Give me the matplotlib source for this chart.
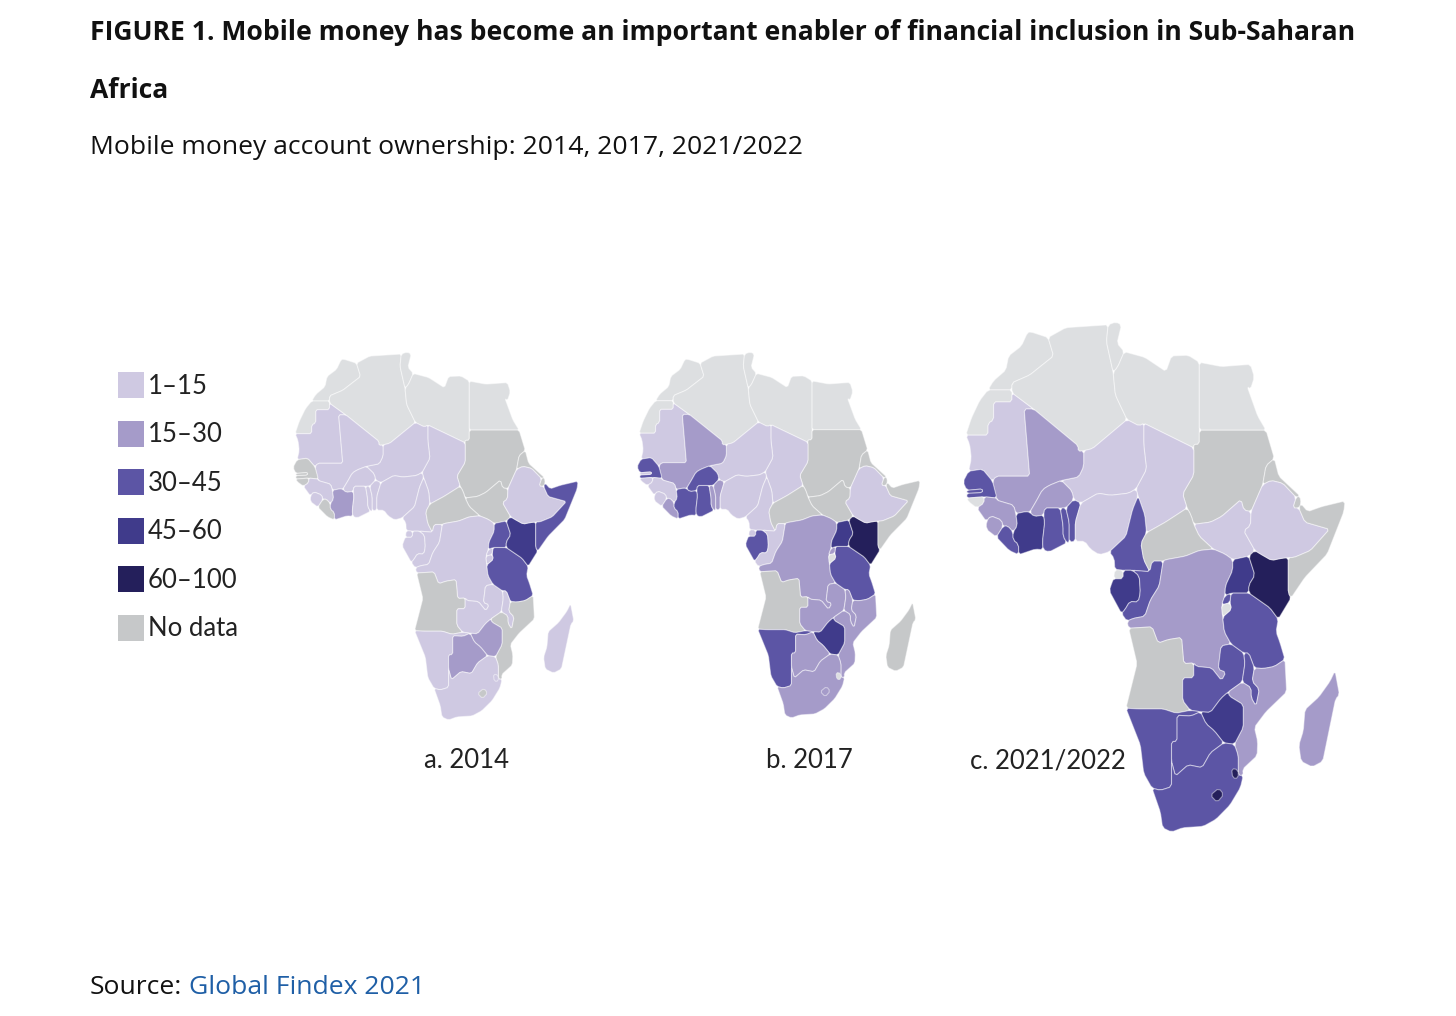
#!/usr/bin/env python3
import math
import matplotlib
matplotlib.use("Agg")
import matplotlib.pyplot as plt
from matplotlib.patches import Polygon, Rectangle

# country outlines, lon/lat, rough by hand
outlines = {
    "MOR": [(-5.9,35.8),(-5.3,35.9),(-2.2,35.1),(-1.2,32.5),(-3.6,31.0),(-5.5,29.8),(-8.7,28.7),(-8.7,27.7),(-13,27.7),(-12,29),(-9.8,30.5),(-9.3,32.5),(-7,33.9)],
    "ESH": [(-13,27.7),(-8.7,27.7),(-8.7,26),(-12,26),(-12,23.4),(-13,23),(-13,21.3),(-17,21.3),(-16,23.7),(-14.5,26.2)],
    "MRT": [(-17,21.3),(-13,21.3),(-13,23),(-12,23.4),(-12,26),(-8.7,26),(-8.7,27.3),(-4.8,25),(-6.5,25),(-5.5,15.5),(-9.3,15.5),(-11.5,15.5),(-12.2,14.8),(-14,16.5),(-16.5,16.2),(-16,18),(-16.3,20)],
    "DZA": [(-2.2,35.1),(1,36.5),(8.6,36.9),(8.3,34.5),(9.5,30.2),(9.9,27),(12,23.5),(5.8,19.4),(4.2,19.1),(3.2,19),(3.2,19.8),(-4.8,25),(-8.7,27.3),(-8.7,28.7),(-5.5,29.8),(-3.6,31),(-1.2,32.5)],
    "TUN": [(8.6,36.9),(10,37.3),(11,36.9),(10.2,34.3),(11.5,33.1),(10.3,30.9),(9.5,30.2),(8.3,34.5)],
    "LBY": [(11.5,33.1),(15.2,32.3),(19,30.3),(20,32.5),(23,32.6),(25,31.6),(25,22),(25,20),(24,20),(24,19.5),(15,23),(14.2,22.6),(12,23.5),(9.9,27),(9.5,30.2),(10.3,30.9)],
    "EGY": [(25,31.6),(29,31),(32.3,31.2),(34.2,31.3),(34.9,29.5),(34.2,27.8),(33.6,28.2),(35.5,24),(37,22),(25,22)],
    "SDN": [(25,22),(37,22),(38.5,18),(37,17),(36.4,14.3),(34.3,10.5),(33,10.7),(32.5,12.2),(29,9.8),(27,9),(24,8.7),(23.5,10),(22.8,11),(22,13),(24,15.7),(24,19.5),(24,20),(25,20)],
    "SSD": [(34.3,10.5),(34.2,8.5),(33,7.8),(35,5),(33.9,4.2),(31,3.7),(29.6,4.5),(27.5,5.2),(25,7),(24,8.7),(27,9),(29,9.8),(32.5,12.2),(33,10.7)],
    "TCD": [(15,23),(24,19.5),(24,15.7),(22,13),(22.8,11),(18.9,9),(15.5,7.5),(15.2,10),(14,12.7),(13.6,13.7),(15.5,16.5),(15,20)],
    "NER": [(12,23.5),(14.2,22.6),(15,23),(15,20),(15.5,16.5),(13.6,13.7),(12.3,13.1),(9,12.8),(6.8,13.1),(3.7,11.7),(2.4,12.2),(2.1,13.4),(0.2,14.9),(3.3,15.4),(4.2,16.9),(4.2,19.1),(5.8,19.4)],
    "MLI": [(-4.8,25),(3.2,19.8),(3.2,19),(4.2,19.1),(4.2,16.9),(3.3,15.4),(0.2,14.9),(-2,14.2),(-3.2,13.6),(-4.3,12),(-5.5,10.4),(-6.2,10.5),(-8,10.2),(-8.4,11.4),(-11.4,12.1),(-12.2,14.8),(-11.5,15.5),(-9.3,15.5),(-5.5,15.5),(-6.5,25)],
    "BFA": [(0.2,14.9),(2.1,13.4),(2.4,12.2),(1,11),(-2.8,11),(-3,10),(-4.7,9.8),(-5.5,10.4),(-4.3,12),(-3.2,13.6),(-2,14.2)],
    "SEN": [(-16.5,16.2),(-14,16.5),(-12.2,14.8),(-11.4,12.4),(-13.7,12.6),(-16.8,12.4),(-16.8,13.1),(-14,13.2),(-14,13.7),(-16.8,13.5),(-17.5,14.7)],
    "GMB": [(-16.8,13.5),(-14,13.7),(-14,13.2),(-16.8,13.1)],
    "GNB": [(-16.8,12.4),(-13.7,12.6),(-13.7,11.7),(-15,11),(-16.5,11.9)],
    "GIN": [(-13.7,12.6),(-11.4,12.4),(-11.4,12.1),(-8.4,11.4),(-8,10.2),(-7.7,8.5),(-8.5,7.6),(-9.5,8.5),(-10.3,8.4),(-10.6,9.3),(-12.5,9.9),(-13.3,9.1),(-15,11),(-13.7,11.7)],
    "SLE": [(-13.3,9.1),(-12.5,9.9),(-10.6,9.3),(-10.3,8.4),(-11.5,6.9),(-13.3,8)],
    "LBR": [(-11.5,6.9),(-10.3,8.4),(-9.5,8.5),(-8.5,7.6),(-8.5,6.5),(-7.5,5.9),(-7.5,4.4),(-9.2,5)],
    "CIV": [(-8,10.2),(-6.2,10.5),(-5.5,10.4),(-4.7,9.8),(-3,10),(-2.8,9),(-3.2,6.3),(-3.1,5.1),(-4.5,5.2),(-7.5,4.4),(-7.5,5.9),(-8.5,6.5),(-8.5,7.6),(-7.7,8.5)],
    "GHA": [(-2.8,11),(0,11),(0.5,8.5),(0.5,7),(1.2,6.1),(-2,4.8),(-3.1,5.1),(-3.2,6.3),(-2.8,9),(-3,10)],
    "TGO": [(0,11),(1,11),(1.6,9),(1.6,6.2),(1.2,6.1),(0.5,7),(0.5,8.5)],
    "BEN": [(1,11),(2.4,12.2),(3.7,11.7),(2.7,9),(2.7,6.3),(1.6,6.2),(1.6,9)],
    "NGA": [(2.7,6.3),(2.7,9),(3.7,11.7),(6.8,13.1),(9,12.8),(12.3,13.1),(13.6,13.7),(14,12.7),(13,10.8),(11.8,7),(8.8,4.8),(7,4.4),(5.4,5.2),(4.4,6.3)],
    "CMR": [(8.8,4.8),(11.8,7),(13,10.8),(14,12.7),(15.2,10),(15.5,7.5),(14.5,6),(15,3.7),(16.1,2),(13,2.2),(11.3,2.2),(9.8,2.3),(9.7,3.9)],
    "CAF": [(15.5,7.5),(18.9,9),(22.8,11),(23.5,10),(24,8.7),(25,7),(27.5,5.2),(25,5),(22.5,4.2),(19,3.7),(18.5,3.5),(16.5,3.5),(16.1,2),(15,3.7),(14.5,6)],
    "GNQ": [(9.8,2.3),(11.3,2.2),(11.3,1),(9.6,1)],
    "GAB": [(9.6,1),(11.3,1),(11.3,2.2),(13,2.2),(14.2,1.4),(14.4,-1),(14,-2.3),(12.5,-2.2),(11.6,-3.4),(11,-3.9),(8.8,-0.7),(9.3,0.5)],
    "COG": [(13,2.2),(16.1,2),(16.5,3.5),(18.5,3.5),(17.8,0),(16.2,-2),(15.2,-4.3),(13.1,-4.6),(12,-5),(11,-3.9),(11.6,-3.4),(12.5,-2.2),(14,-2.3),(14.4,-1),(14.2,1.4)],
    "COD": [(18.5,3.5),(19,3.7),(22.5,4.2),(25,5),(27.5,5.2),(29.6,4.5),(31,3.7),(31,2.2),(29.7,0),(29.6,-1.4),(29,-2.7),(29.2,-4.4),(29.5,-6.5),(30.7,-8.2),(28.9,-8.5),(28.4,-11.8),(29.8,-12.2),(29,-13.4),(27.2,-11.6),(24.5,-11.4),(24,-10.9),(22.2,-11),(21.8,-7.3),(19.4,-7.6),(17.6,-8.1),(16.5,-5.8),(12.3,-6),(12,-5),(13.1,-4.6),(15.2,-4.3),(16.2,-2),(17.8,0)],
    "AGO": [(12.3,-6),(16.5,-5.8),(17.6,-8.1),(19.4,-7.6),(21.8,-7.3),(22.2,-11),(24,-10.9),(24,-13),(22,-13),(22,-16.2),(23.4,-17.6),(20.8,-18),(18.5,-17.4),(14,-17.4),(11.8,-17.3),(13.8,-11),(13.2,-9)],
    "ZMB": [(22,-13),(24,-13),(24,-10.9),(24.5,-11.4),(27.2,-11.6),(29,-13.4),(29.8,-12.2),(28.4,-11.8),(28.9,-8.5),(30.7,-8.2),(33,-9.5),(33.2,-11),(32.7,-13.6),(30.2,-15),(28.9,-15.9),(27,-17.9),(25.2,-17.8),(23.4,-17.6),(22,-16.2)],
    "TZA": [(30.7,-1),(33.9,-1),(37.7,-3.1),(39.2,-4.7),(38.8,-6.5),(39.5,-8),(40.4,-10.4),(38.5,-11.4),(36.5,-11.7),(34.9,-11.6),(33.9,-9.5),(33,-9.5),(30.7,-8.2),(29.5,-6.5),(29.2,-4.4),(30.8,-3.3),(30.5,-2.4)],
    "RWA": [(29.6,-1.4),(30.7,-1),(30.5,-2.4),(29,-2.7)],
    "BDI": [(29,-2.7),(30.5,-2.4),(30.8,-3.3),(29.2,-4.4)],
    "UGA": [(31,3.7),(33.9,4.2),(35,1.5),(33.9,0.1),(33.9,-1),(30.7,-1),(29.6,-1.4),(29.7,0),(31,2.2)],
    "KEN": [(33.9,4.2),(35,5),(36,4.5),(38,3.6),(39.8,3.9),(41,4),(41,-1),(41.5,-1.7),(39.2,-4.7),(37.7,-3.1),(33.9,-1),(33.9,0.1),(35,1.5)],
    "ERI": [(36.4,14.3),(37,17),(38.5,18),(39.3,15.5),(43.1,12.7),(42.4,12.5),(40,14.5),(37.9,14.9)],
    "DJI": [(43.1,12.7),(43.3,11.6),(42.9,11),(41.8,11),(42.4,12.5)],
    "ETH": [(36.4,14.3),(37.9,14.9),(40,14.5),(42.4,12.5),(41.8,11),(42.9,11),(44,9),(48.4,8),(45,5),(42,4),(41,4),(39.8,3.9),(38,3.6),(36,4.5),(35,5),(33,7.8),(34.2,8.5),(34.3,10.5)],
    "SOM": [(43.3,11.6),(44.5,10.5),(47,11.2),(51.2,12),(51,10.5),(48,4.5),(44,1.2),(41.5,-1.7),(41,-1),(41,4),(42,4),(45,5),(48.4,8),(44,9),(42.9,11)],
    "MWI": [(33,-9.5),(33.9,-9.5),(34.9,-11.6),(34.5,-13.5),(35.8,-14.6),(35.2,-17),(34.3,-15.8),(34.3,-14.4),(32.7,-13.6),(33.2,-11)],
    "MOZ": [(34.9,-11.6),(36.5,-11.7),(38.5,-11.4),(40.4,-10.4),(40.7,-15),(37,-17.8),(34.9,-20),(35.5,-22),(35.4,-24),(32.8,-25.9),(32.9,-26.8),(32,-26.8),(32,-24),(31.3,-22.4),(32.9,-20),(32.9,-16.8),(30.4,-15.6),(30.2,-15),(32.7,-13.6),(34.3,-14.4),(34.3,-15.8),(35.2,-17),(35.8,-14.6),(34.5,-13.5)],
    "ZWE": [(25.2,-17.8),(27,-17.9),(28.9,-15.9),(30.2,-15),(30.4,-15.6),(32.9,-16.8),(32.9,-20),(31.3,-22.4),(29.4,-22.2),(27.7,-20.5),(26.2,-19.5)],
    "NAM": [(11.8,-17.3),(14,-17.4),(18.5,-17.4),(20.8,-18),(23.4,-17.6),(25.2,-17.8),(23.5,-18.4),(21,-18.3),(21,-22),(20,-22),(20,-24.8),(20,-28.4),(18,-28.9),(16.5,-28.6),(15,-26.5),(14.4,-22.5)],
    "BWA": [(21,-18.3),(23.5,-18.4),(25.2,-17.8),(26.2,-19.5),(27.7,-20.5),(29.4,-22.2),(27,-23.6),(25.5,-25.7),(23,-25.3),(20.7,-26.9),(20,-24.8),(20,-22),(21,-22)],
    "ZAF": [(16.5,-28.6),(18,-28.9),(20,-28.4),(20,-24.8),(20.7,-26.9),(23,-25.3),(25.5,-25.7),(27,-23.6),(29.4,-22.2),(31.3,-22.4),(32,-24),(32,-26.8),(32.9,-26.8),(32.4,-28.5),(30.5,-31),(28,-33),(25.7,-34),(22,-34.2),(20,-34.8),(18.4,-34.2),(18,-32)],
    "LSO": [(27,-29.6),(28.5,-28.6),(29.4,-29.5),(28.2,-30.6)],
    "SWZ": [(30.8,-25.8),(32,-26),(32,-27.2),(31,-27.2)],
    "MDG": [(49.4,-12),(50.2,-15.4),(49.5,-16),(47.2,-24.8),(45.3,-25.6),(43.3,-24.8),(42.9,-22.5),(43.7,-20.5),(44,-17.5),(46.5,-15.7),(48.5,-13.5)],
}

north = ["MOR", "ESH", "DZA", "TUN", "LBY", "EGY"]

bin_labels = ["1–15", "15–30", "30–45", "45–60", "60–100", "No data"]
bin_colors = ["#cfc9e2", "#a59bc9", "#5c55a5", "#403b8b", "#241f5b", "#c6c8c9"]
pale_color = "#dddfe1"
fill_colors = bin_colors + [pale_color]

# 0..4 are the classes, 5 is no data, 6 the paler grey
bins_2014 = {
    "MRT": 0, "MLI": 0, "NER": 0, "TCD": 0, "SEN": 5, "GMB": 5, "GNB": 5, "GIN": 0, "SLE": 0, "LBR": 5,
    "CIV": 1, "BFA": 0, "GHA": 0, "TGO": 0, "BEN": 0, "NGA": 0, "CMR": 0, "GNQ": 0, "GAB": 0, "COG": 0,
    "CAF": 5, "SDN": 5, "SSD": 5, "ETH": 0, "ERI": 5, "DJI": 5, "SOM": 2, "UGA": 2, "KEN": 3, "RWA": 0,
    "BDI": 0, "TZA": 2, "COD": 0, "AGO": 5, "ZMB": 0, "MWI": 0, "MOZ": 5, "ZWE": 1, "NAM": 0, "BWA": 1,
    "ZAF": 0, "LSO": 5, "SWZ": 0, "MDG": 0,
}
bins_2017 = {
    "MRT": 0, "MLI": 1, "NER": 0, "TCD": 0, "SEN": 2, "GMB": 0, "GNB": 0, "GIN": 0, "SLE": 0, "LBR": 1,
    "CIV": 2, "BFA": 2, "GHA": 2, "TGO": 1, "BEN": 1, "NGA": 0, "CMR": 0, "GNQ": 0, "GAB": 2, "COG": 0,
    "CAF": 5, "SDN": 5, "SSD": 5, "ETH": 0, "ERI": 5, "DJI": 5, "SOM": 5, "UGA": 3, "KEN": 4, "RWA": 1,
    "BDI": 6, "TZA": 2, "COD": 1, "AGO": 5, "ZMB": 1, "MWI": 1, "MOZ": 1, "ZWE": 3, "NAM": 2, "BWA": 1,
    "ZAF": 1, "LSO": 1, "SWZ": 6, "MDG": 5,
}
bins_2021 = {
    "MRT": 0, "MLI": 1, "NER": 0, "TCD": 0, "SEN": 2, "GMB": 2, "GNB": 6, "GIN": 1, "SLE": 1, "LBR": 2,
    "CIV": 3, "BFA": 1, "GHA": 2, "TGO": 2, "BEN": 2, "NGA": 0, "CMR": 2, "GNQ": 6, "GAB": 3, "COG": 2,
    "CAF": 5, "SDN": 5, "SSD": 0, "ETH": 0, "ERI": 5, "DJI": 5, "SOM": 5, "UGA": 3, "KEN": 4, "RWA": 2,
    "BDI": 6, "TZA": 2, "COD": 1, "AGO": 5, "ZMB": 2, "MWI": 2, "MOZ": 1, "ZWE": 3, "NAM": 2, "BWA": 2,
    "ZAF": 2, "LSO": 4, "SWZ": 4, "MDG": 1,
}

panel_names = ["a. 2014", "b. 2017", "c. 2021/2022"]
panel_bins = [bins_2014, bins_2017, bins_2021]
# pixel box of each map: left, right, top, bottom
panel_boxes = [(293, 578, 352, 720), (637, 920, 352, 718), (963, 1345, 322, 832)]
panel_label_x = [467, 809, 1048]

W, H = 1456, 1016
LON0, LON1, LAT0, LAT1 = -17.5, 51.2, -34.8, 37.3


def soften(pts, cut=0.35):
    # take a small fixed bite off each corner so the outlines look less angular
    out = []
    for i, p in enumerate(pts):
        q = pts[(i + 1) % len(pts)]
        dist = math.hypot(q[0] - p[0], q[1] - p[1])
        t = min(cut / dist, 0.3)
        out.append((p[0] + t * (q[0] - p[0]), p[1] + t * (q[1] - p[1])))
        out.append((q[0] - t * (q[0] - p[0]), q[1] - t * (q[1] - p[1])))
    return out


fig = plt.figure(figsize=(W / 100, H / 100), dpi=100)
bg = fig.add_axes([0, 0, 1, 1])
bg.set_xlim(0, W)
bg.set_ylim(H, 0)
bg.axis("off")

for box, bins in zip(panel_boxes, panel_bins):
    left, right, top, bottom = box
    ax = fig.add_axes([left / W, 1 - bottom / H, (right - left) / W, (bottom - top) / H])
    ax.set_xlim(LON0, LON1)
    ax.set_ylim(LAT0, LAT1)
    ax.axis("off")
    for code, pts in outlines.items():
        col = fill_colors[6] if code in north else fill_colors[bins[code]]
        ax.add_patch(Polygon(soften(pts), closed=True, facecolor=col, edgecolor=(1, 1, 1, 0.45),
                             linewidth=0.8, joinstyle="round", clip_on=False))

font = "Open Sans"
size = 19.05
ink = "#111111"
bg.text(90, 33, "FIGURE 1. Mobile money has become an important enabler of financial inclusion in Sub-Saharan",
        fontsize=size, fontweight="bold", family=font, color=ink, va="center")
bg.text(90, 91, "Africa", fontsize=size, fontweight="bold", family=font, color=ink, va="center")
bg.text(90, 148, "Mobile money account ownership: 2014, 2017, 2021/2022",
        fontsize=size, family=font, color=ink, va="center")
bg.text(90, 988, "Source:", fontsize=size, family=font, color=ink, va="center")
bg.text(189, 988, "Global Findex 2021", fontsize=size, family=font, color="#1f5fa6", va="center")

for i, (lab, col) in enumerate(zip(bin_labels, bin_colors)):
    y = 372 + i * 48.6
    bg.add_patch(Rectangle((118, y), 26, 26, facecolor=col, edgecolor="none"))
    bg.text(148, y + 14, lab, fontsize=18.5, family="Lato", color="#222222", va="center")

for name, x in zip(panel_names, panel_label_x):
    bg.text(x, 761, name, fontsize=18.5, family="Lato", color="#222222", va="center", ha="center")

fig.savefig("out.png", dpi=100, facecolor="white")
